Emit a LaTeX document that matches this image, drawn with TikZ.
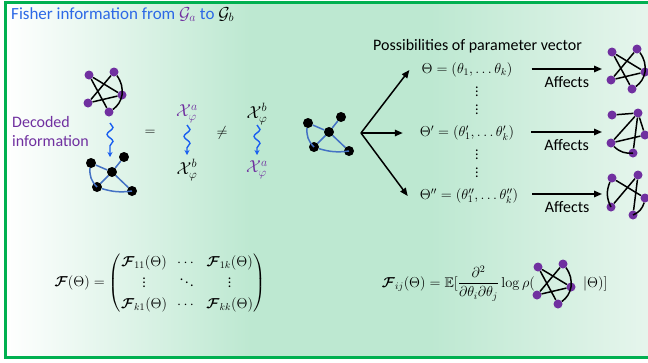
\documentclass[tikz,border=0pt]{standalone}
\usepackage{amsmath, amssymb, bm}
\usepackage[no-math]{fontspec}
\setmainfont{Carlito}
\usepackage{tikz}
\usetikzlibrary{arrows.meta, positioning, decorations.pathmorphing}
\definecolor{framegreen}{RGB}{0,176,80}
\definecolor{bggreen}{RGB}{189,232,209}
\definecolor{bglight}{RGB}{232,246,238}
\definecolor{titleblue}{RGB}{45,105,230}
\definecolor{gpurple}{RGB}{112,48,160}
\definecolor{squigblue}{RGB}{25,95,240}
\definecolor{edgeblue}{RGB}{68,114,196}
\tikzset{
  pdot/.style={circle, fill=gpurple, inner sep=0pt, minimum size=9pt},
  bdot/.style={circle, fill=black, inner sep=0pt, minimum size=10pt},
  kedge/.style={line width=1.5pt, draw=black},
  bedge/.style={line width=1.5pt, draw=edgeblue},
  arr/.style={-{Triangle[length=8pt, width=6.5pt]}, line width=1.5pt},
  squig/.style={-{Stealth[length=5pt, width=5pt]}, line width=1.4pt,
                draw=squigblue, decorate,
                decoration={snake, amplitude=3pt, segment length=14pt,
                            post length=5pt}},
  txt/.style={font=\fontsize{16}{19}\selectfont, inner sep=0pt},
  mth/.style={font=\fontsize{14}{17}\selectfont, inner sep=0pt},
  bigmth/.style={font=\fontsize{18}{20}\selectfont, inner sep=0pt},
  % star-shaped graph, purple vertices
  pics/stargraph/.style={code={
    \node[pdot] (-n1) at (0,0) {};
    \node[pdot] (-n2) at (25,3) {};
    \node[pdot] (-n3) at (33,-20) {};
    \node[pdot] (-n4) at (-1,-28) {};
    \node[pdot] (-n5) at (20,-37) {};
    \draw[kedge] (-n1) -- (-n3);
    \draw[kedge] (-n1) -- (-n5);
    \draw[kedge] (-n2) -- (-n4);
    \draw[kedge] (-n4) -- (-n3);
    \draw[kedge] (-n2) to[bend left=20] (-n3);
    \draw[kedge] (-n5) to[bend right=20] (-n3);
  }},
  % second graph, purple vertices
  pics/wedgegraph/.style={code={
    \node[pdot] (-n1) at (0,0) {};
    \node[pdot] (-n2) at (26,2) {};
    \node[pdot] (-n3) at (33,-20) {};
    \node[pdot] (-n4) at (-1,-28) {};
    \node[pdot] (-n5) at (21,-38) {};
    \draw[kedge] (-n1) -- (-n2);
    \draw[kedge] (-n2) -- (-n4);
    \draw[kedge] (-n2) -- (-n3);
    \draw[kedge] (-n4) -- (-n3);
    \draw[kedge] (-n2) -- (-n5);
    \draw[kedge] (-n4) to[bend right=25] (-n5);
  }},
  % third graph, purple vertices
  pics/crossgraph/.style={code={
    \node[pdot] (-n1) at (0,0) {};
    \node[pdot] (-n2) at (26,3) {};
    \node[pdot] (-n3) at (33,-20) {};
    \node[pdot] (-n4) at (-1,-29) {};
    \node[pdot] (-n5) at (21,-37) {};
    \draw[kedge] (-n1) to[bend right=25] (-n4);
    \draw[kedge] (-n2) -- (-n4);
    \draw[kedge] (-n1) -- (-n3);
    \draw[kedge] (-n2) -- (-n5);
    \draw[kedge] (-n3) to[bend left=25] (-n5);
  }},
  % decoded graph, black vertices and blue edges
  pics/bluegraph/.style={code={
    \node[bdot] (-a) at (0,0) {};
    \node[bdot] (-b) at (33,6) {};
    \node[bdot] (-c) at (21,-9) {};
    \node[bdot] (-d) at (6,-24) {};
    \node[bdot] (-e) at (41,-28) {};
    \draw[bedge] (-a) -- (-c);
    \draw[bedge] (-b) -- (-c);
    \draw[bedge] (-c) -- (-d);
    \draw[bedge] (-c) -- (-e);
    \draw[bedge] (-a) to[bend right=25] (-d);
    \draw[bedge] (-d) to[bend right=12] (-e);
  }}
}

\begin{document}
\begin{tikzpicture}[x=1pt, y=1pt]
  \useasboundingbox (0,0) rectangle (648,-362);
  \clip (0,0) rectangle (648,-362);

  % background and frame
  \fill[left color=white, right color=bggreen] (5,-2) rectangle (250,-357);
  \fill[bggreen] (249,-2) rectangle (431,-357);
  \fill[left color=bggreen, right color=bglight] (430,-2) rectangle (660,-357);
  \draw[framegreen, line width=3pt] (5,-2) rectangle (680,-357);

  % title
  \node[txt, font=\fontsize{17}{20}\selectfont, anchor=base west, text=titleblue] (title) at (11,-19)
    {Fisher information from \textcolor{gpurple}{$\mathcal{G}_a$} to \textcolor{black}{$\mathcal{G}_b$}};

  % decoding
  \pic (ga) at (89,-75) {stargraph};
  \pic (gb) at (91,-163) {bluegraph};
  \node[txt, anchor=north west, align=left, text=gpurple] (decoded) at (12,-116)
    {Decoded\\information};
  \coordinate (dtop) at (110,-123);
  \coordinate (dbot) at (110,-157);
  \draw[squig] (dtop) -- (dbot);

  \node[mth] (eq) at (150,-133) {$=$};
  \node[mth] (neq) at (222,-133) {$\neq$};

  \node[bigmth, text=gpurple] (xa1) at (187,-114) {$\mathcal{X}_\varphi^a$};
  \node[bigmth] (xb1) at (187,-170) {$\mathcal{X}_\varphi^b$};
  \node[bigmth] (xb2) at (257,-114) {$\mathcal{X}_\varphi^b$};
  \node[bigmth, text=gpurple] (xa2) at (257,-170) {$\mathcal{X}_\varphi^a$};
  \draw[squig] ([yshift=-11pt]xa1.center) -- ([yshift=15pt]xb1.center);
  \draw[squig] ([yshift=-11pt]xb2.center) -- ([yshift=15pt]xa2.center);

  % parameter possibilities
  \pic (gm) at (308,-123) {bluegraph};
  \coordinate (fork) at (361,-133);
  \node[txt, anchor=base west] (poss) at (373,-50)
    {Possibilities of parameter vector};
  \node[mth] (th1) at (467,-70) {$\Theta = (\theta_1, \ldots \theta_k)$};
  \node[mth] (th2) at (467,-133) {$\Theta' = (\theta_1', \ldots \theta_k')$};
  \node[mth] (th3) at (469,-196) {$\Theta'' = (\theta_1'', \ldots \theta_k'')$};
  \node[mth, align=center, font=\fontsize{14}{18}\selectfont] (vd1) at (477,-98) {$\vdots$\\$\vdots$};
  \node[mth, align=center, font=\fontsize{14}{18}\selectfont] (vd2) at (477,-161) {$\vdots$\\$\vdots$};
  \draw[arr] (fork) -- ([xshift=-12pt]th1.west);
  \draw[arr] (fork) -- ([xshift=-17pt]th2.west);
  \draw[arr] (fork) -- ([xshift=-12pt]th3.west);

  \pic (r1) at (612,-52) {stargraph};
  \pic (r2) at (612,-115) {wedgegraph};
  \pic (r3) at (612,-178) {crossgraph};
  \coordinate (af1) at (602,-69);
  \coordinate (af2) at (602,-132);
  \coordinate (af3) at (602,-194);
  \draw[arr] ([xshift=19pt]th1.east |- af1) -- node[txt, below=7pt] {Affects} (af1);
  \draw[arr] ([xshift=17pt]th2.east |- af2) -- node[txt, below=7pt] {Affects} (af2);
  \draw[arr] ([xshift=14pt]th3.east |- af3) -- node[txt, below=7pt] {Affects} (af3);

  % Fisher information matrix
  \node[mth] (fmat) at (160,-283) {\renewcommand{\arraystretch}{1.2}$\bm{\mathcal{F}}(\Theta) = \begin{pmatrix}
      \bm{\mathcal{F}}_{11}(\Theta) & \cdots & \bm{\mathcal{F}}_{1k}(\Theta)\\
      \vdots & \ddots & \vdots\\
      \bm{\mathcal{F}}_{k1}(\Theta) & \cdots & \bm{\mathcal{F}}_{kk}(\Theta)
    \end{pmatrix}$};

  % matrix element
  \node[mth, anchor=base east] (fij) at (535,-287)
    {$\bm{\mathcal{F}}_{ij}(\Theta) = \mathbb{E}[\dfrac{\partial^2}{\partial\theta_i\partial\theta_j}\log\rho($};
  \pic (gf) at (538,-267) {stargraph};
  \node[mth, anchor=base west] (cond) at (583,-287) {$|\Theta)]$};

\end{tikzpicture}
\end{document}
